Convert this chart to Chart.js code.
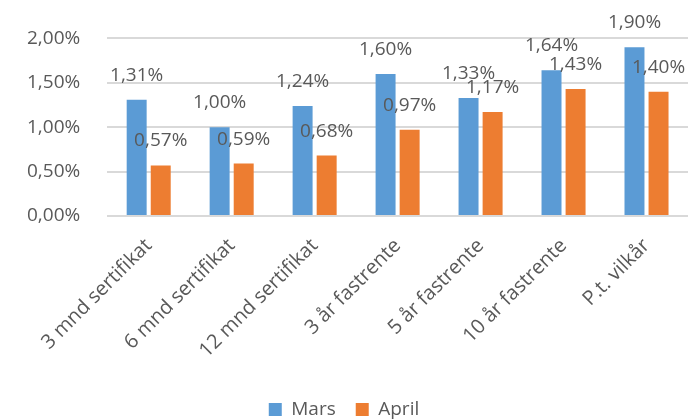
<!DOCTYPE html>
<html>
<head>
<meta charset="utf-8">
<script src="https://cdn.jsdelivr.net/npm/chart.js@4"></script>
<style>
  body { margin: 0; background: #fff; }
  #wrap { width: 688px; height: 420px; }
</style>
</head>
<body>
<div id="wrap"><canvas id="myChart" width="688" height="420"></canvas></div>
<script>
var categories = ["3 mnd sertifikat", "6 mnd sertifikat", "12 mnd sertifikat", "3 år fastrente", "5 år fastrente", "10 år fastrente", "P.t. vilkår"];
var mars = [1.31, 1.00, 1.24, 1.60, 1.33, 1.64, 1.90];
var april = [0.57, 0.59, 0.68, 0.97, 1.17, 1.43, 1.40];
var yTicks = [0, 0.5, 1, 1.5, 2];

var COLORS = ['#5b9bd5', '#ed7d31'];
var textColor = '#595959';
var fontName = '"Open Sans", Lato, sans-serif';

function pct(v) {
  return v.toFixed(2).replace('.', ',') + '%';
}

// value labels above bars, Excel style
var valueLabels = {
  id: 'valueLabels',
  afterDatasetsDraw: function(chart) {
    var ctx = chart.ctx;
    ctx.save();
    ctx.font = '19px ' + fontName;
    ctx.fillStyle = textColor;
    ctx.textAlign = 'center';
    ctx.textBaseline = 'bottom';
    chart.data.datasets.forEach(function(ds, i) {
      var meta = chart.getDatasetMeta(i);
      meta.data.forEach(function(bar, j) {
        ctx.fillText(pct(ds.data[j]), bar.x, bar.y - 15);
      });
    });
    ctx.restore();
  }
};

new Chart("myChart", {
  type: "bar",
  data: {
    labels: categories,
    datasets: [{
      label: 'Mars',
      data: mars,
      backgroundColor: COLORS[0],
      categoryPercentage: 0.58,
      barPercentage: 0.83
    }, {
      label: 'April',
      data: april,
      backgroundColor: COLORS[1],
      categoryPercentage: 0.58,
      barPercentage: 0.83
    }]
  },
  options: {
    responsive: false,
    animation: false,
    layout: { padding: { top: 17, right: 0, left: 0, bottom: -9 } },
    plugins: {
      legend: {
        position: 'bottom',
        labels: {
          boxWidth: 13, boxHeight: 13,
          color: textColor,
          font: { family: fontName, size: 19 },
          padding: 20
        }
      },
      tooltip: { enabled: false }
    },
    scales: {
      x: {
        grid: { display: false },
        border: { display: false },
        ticks: {
          minRotation: 45, maxRotation: 45,
          padding: 10,
          color: textColor,
          font: { family: fontName, size: 20 }
        },
        afterFit: function(axis) { axis.height = 164; }
      },
      y: {
        min: 0, max: 2,
        afterBuildTicks: function(axis) {
          axis.ticks = yTicks.map(function(v) { return { value: v }; });
        },
        grid: { color: '#d9d9d9', lineWidth: 2, drawTicks: false },
        border: { display: false },
        ticks: {
          padding: 27,
          color: textColor,
          font: { family: fontName, size: 19 },
          callback: function(v) { return pct(v); }
        }
      }
    }
  },
  plugins: [valueLabels]
});
</script>
</body>
</html>
